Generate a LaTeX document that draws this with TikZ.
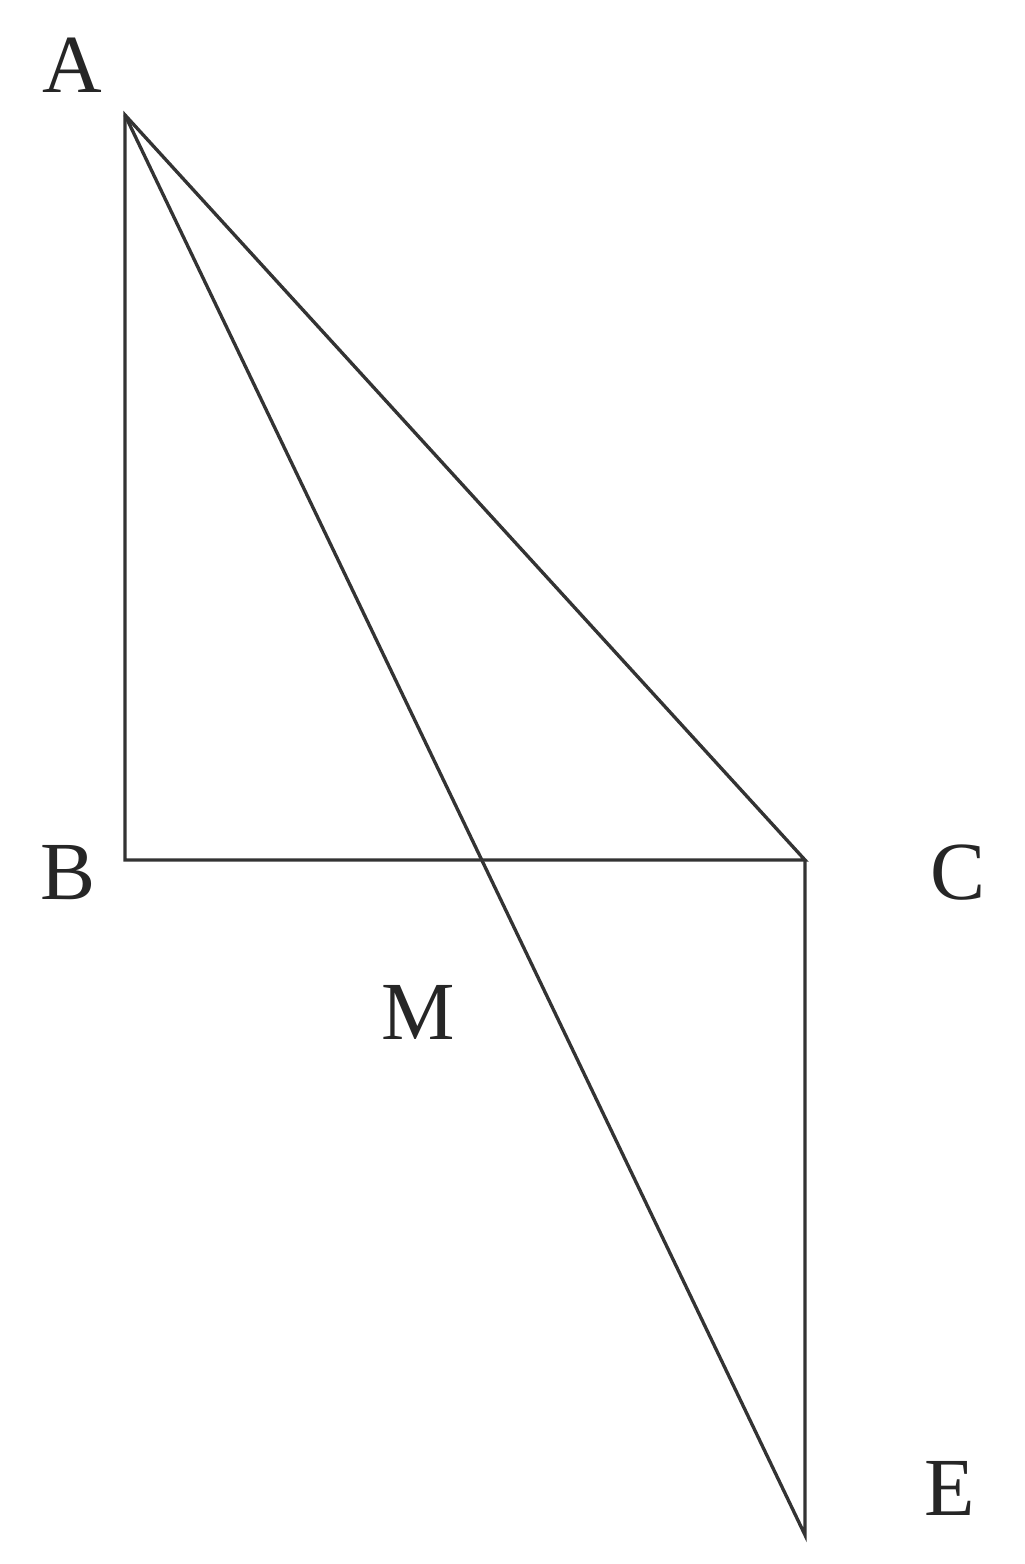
\documentclass[tikz,border=0pt]{standalone}
\usepackage{fontspec}
\setmainfont{Liberation Serif}
\begin{document}
\begin{tikzpicture}[x=0.02cm,y=-0.02cm,
  edge/.style={line width=1.9pt,draw=black!80,line join=miter},
  lbl/.style={font=\fontsize{47}{47}\selectfont,text=black!85,inner sep=0pt}]
\useasboundingbox (0,0) rectangle (1024,1564);
\coordinate (A) at (125,115);
\coordinate (B) at (125,860);
\coordinate (C) at (805,860);
\coordinate (E) at (805,1535);
\coordinate (M) at (483,860);
\draw[edge] (A) -- (B) -- (C) -- cycle;
\draw[edge] (C) -- (E) -- (A);
\node[lbl] (la) at (72,65) {A};
\node[lbl] (lb) at (68,873) {B};
\node[lbl] (lc) at (958,873) {C};
\node[lbl] (lm) at (418,1012) {M};
\node[lbl] (le) at (950,1488) {E};
\end{tikzpicture}
\end{document}
